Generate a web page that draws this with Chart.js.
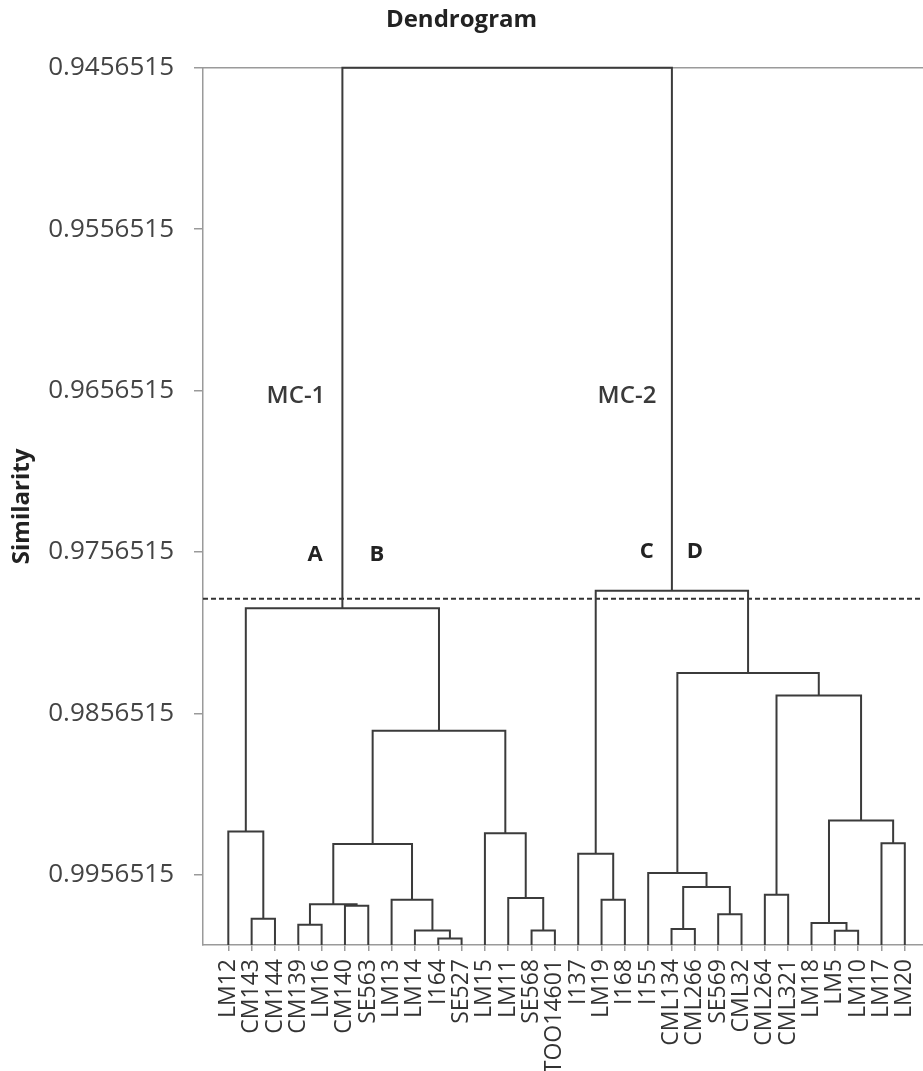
<!DOCTYPE html>
<html>
<head>
<meta charset="utf-8">
<title>Dendrogram</title>
<script src="https://cdn.jsdelivr.net/npm/chart.js@4.4.1/dist/chart.umd.min.js"></script>
<style>
  html, body { margin: 0; padding: 0; background: #fff; }
  #wrap { position: relative; width: 923px; height: 1071px; }
</style>
</head>
<body>
<div id="wrap"><canvas id="dendro"></canvas></div>
<script>
  // ── leaves, in plotted order (node ids 0..29) ──
  const LEAVES = ['LM12', 'CM143', 'CM144', 'CM139', 'LM16', 'CM140', 'SE563', 'LM13', 'LM14', 'I164',
    'SE527', 'LM15', 'LM11', 'SE568', 'TOO14601', 'I137', 'LM19', 'I168', 'I155', 'CML134',
    'CML266', 'SE569', 'CML32', 'CML264', 'CML321', 'LM18', 'LM5', 'LM10', 'LM17', 'LM20'];

  // ── merges: merge k makes node 30+k out of MERGE_LEFT[k] and MERGE_RIGHT[k] ──
  const MERGE_LEFT  = [1, 0, 3, 5, 32, 9, 8, 7, 34, 13, 12, 11, 38, 31, 16, 15, 19, 21, 46, 18, 23, 26, 25, 28, 52, 50, 49, 45, 43];
  const MERGE_RIGHT = [2, 30, 4, 6, 33, 10, 35, 36, 37, 14, 39, 40, 41, 42, 17, 44, 20, 22, 47, 48, 24, 27, 51, 29, 53, 54, 55, 56, 57];
  const MERGE_SIM   = [0.99838, 0.99297, 0.99875, 0.99757, 0.99747, 0.99960, 0.99910, 0.99720, 0.99375, 0.99910,
    0.99709, 0.99307, 0.98673, 0.97913, 0.99720, 0.99435, 0.99901, 0.99809, 0.99641, 0.99554,
    0.99689, 0.99912, 0.99864, 0.99369, 0.99229, 0.98454, 0.98315, 0.97805, 0.9456515];

  const LEAF_SIM = 1.0;
  const CUT_SIM = 0.97855;

  // ── axes ──
  const Y_TICKS = [0.9456515, 0.9556515, 0.9656515, 0.9756515, 0.9856515, 0.9956515];
  const Y_MIN = 0.9456515, Y_MAX = 1.0;
  const X_MIN = -0.085, X_MAX = 30.78;

  // ── group labels ──
  const NOTE_TEXT = ['MC-1', 'MC-2', 'A', 'B', 'C', 'D'];
  const NOTE_X    = [3.9, 18.09, 4.72, 7.37, 18.94, 21.0];
  const NOTE_Y    = [0.96597, 0.96597, 0.97583, 0.97583, 0.97564, 0.97564];

  const FONT = '"Open Sans", "Noto Sans", sans-serif';
  const LINK_COLOR = '#3b3b3b';
  const AXIS_COLOR = '#9a9a9a';

  // ── build link segments ──
  const nodeX = LEAVES.map((_, i) => i + 1);
  const nodeY = LEAVES.map(() => LEAF_SIM);
  const datasets = [];

  MERGE_LEFT.forEach((l, k) => {
    const r = MERGE_RIGHT[k];
    const h = MERGE_SIM[k];
    datasets.push({
      data: [
        { x: nodeX[l], y: nodeY[l] },
        { x: nodeX[l], y: h },
        { x: nodeX[r], y: h },
        { x: nodeX[r], y: nodeY[r] }
      ],
      borderColor: LINK_COLOR,
      borderWidth: 2,
      pointRadius: 0,
      showLine: true,
      fill: false,
      tension: 0,
      clip: false
    });
    nodeX.push((nodeX[l] + nodeX[r]) / 2);
    nodeY.push(h);
  });

  // cut level
  datasets.push({
    data: [{ x: X_MIN, y: CUT_SIM }, { x: X_MAX, y: CUT_SIM }],
    borderColor: '#333',
    borderWidth: 2,
    borderDash: [5, 3],
    pointRadius: 0,
    showLine: true,
    fill: false,
    clip: false
  });

  // top frame line
  const framePlugin = {
    id: 'frame',
    beforeDatasetsDraw(chart) {
      const a = chart.chartArea;
      const ctx = chart.ctx;
      ctx.save();
      ctx.strokeStyle = AXIS_COLOR;
      ctx.lineWidth = 1.5;
      ctx.beginPath();
      ctx.moveTo(a.left, a.top);
      ctx.lineTo(a.right, a.top);
      ctx.stroke();
      ctx.restore();
    }
  };

  // group labels
  const notePlugin = {
    id: 'notes',
    afterDatasetsDraw(chart) {
      const ctx = chart.ctx;
      const xs = chart.scales.x, ys = chart.scales.y;
      ctx.save();
      ctx.textAlign = 'center';
      ctx.textBaseline = 'middle';
      NOTE_TEXT.forEach((t, i) => {
        const big = t.length > 1;
        ctx.font = (big ? '600 24px ' : 'bold 22px ') + FONT;
        ctx.fillStyle = big ? '#3a3a3a' : '#222';
        ctx.fillText(t, xs.getPixelForValue(NOTE_X[i]), ys.getPixelForValue(NOTE_Y[i]));
      });
      ctx.restore();
    }
  };

  new Chart(document.getElementById('dendro'), {
    type: 'scatter',
    data: { datasets: datasets },
    options: {
      responsive: true,
      maintainAspectRatio: false,
      animation: false,
      layout: { padding: { left: 0, right: 0, top: 0, bottom: 0 } },
      plugins: {
        legend: { display: false },
        tooltip: { enabled: false },
        title: {
          display: true,
          text: 'Dendrogram',
          color: '#222',
          font: { family: FONT, size: 24, weight: 'bold' },
          padding: { top: 6, bottom: 33 }
        }
      },
      scales: {
        x: {
          type: 'linear',
          min: X_MIN,
          max: X_MAX,
          afterBuildTicks: s => { s.ticks = LEAVES.map((_, i) => ({ value: i + 1 })); },
          afterFit: s => { s.height = 126; s.paddingLeft = 0; s.paddingRight = 0; },
          ticks: {
            autoSkip: false,
            minRotation: 90,
            maxRotation: 90,
            padding: 8,
            color: '#333',
            font: { family: FONT, size: 23 },
            callback: v => LEAVES[Math.round(v) - 1]
          },
          grid: { drawOnChartArea: false, drawTicks: true, tickLength: 6, color: AXIS_COLOR, lineWidth: 1.5 },
          border: { display: true, color: AXIS_COLOR, width: 1.5 }
        },
        y: {
          type: 'linear',
          reverse: true,
          min: Y_MIN,
          max: Y_MAX,
          afterBuildTicks: s => { s.ticks = Y_TICKS.map(v => ({ value: v })); },
          afterFit: s => { s.width = 203; },
          title: {
            display: true,
            text: 'Similarity',
            color: '#222',
            font: { family: FONT, size: 24, weight: 'bold' },
            padding: { top: 8, bottom: 0 }
          },
          ticks: {
            padding: 20,
            color: '#444',
            font: { family: FONT, size: 26 },
            callback: v => v.toFixed(7)
          },
          grid: { drawOnChartArea: false, drawTicks: true, tickLength: 9, color: AXIS_COLOR, lineWidth: 1.5 },
          border: { display: true, color: AXIS_COLOR, width: 1.5 }
        }
      }
    },
    plugins: [framePlugin, notePlugin]
  });
</script>
</body>
</html>
